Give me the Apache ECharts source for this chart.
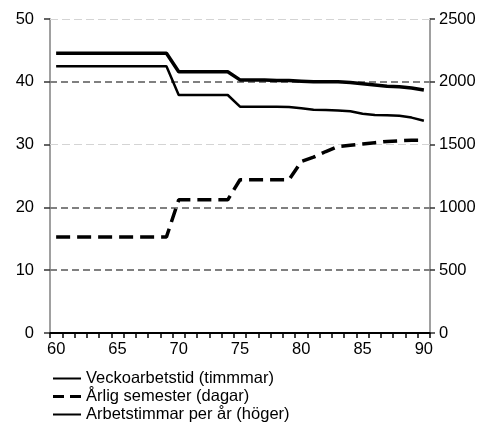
<!DOCTYPE html>
<html>
<head>
<meta charset="utf-8">
<script src="https://cdn.jsdelivr.net/npm/echarts@6/dist/echarts.min.js"></script>
<style>html,body{margin:0;padding:0;background:#fff;}#c{width:491px;height:425px;}</style>
</head>
<body>
<div id="c"></div>
<script>
const years = ['60','61','62','63','64','65','66','67','68','69','70','71','72','73','74','75','76','77','78','79','80','81','82','83','84','85','86','87','88','89','90'];
const weeklyHours = [44.55,44.55,44.55,44.55,44.55,44.55,44.55,44.55,44.55,44.55,41.6,41.6,41.6,41.6,41.6,40.3,40.3,40.3,40.2,40.2,40.1,40.0,40.0,40.0,39.9,39.7,39.5,39.3,39.2,39.0,38.7];
const vacationDays = [15.3,15.3,15.3,15.3,15.3,15.3,15.3,15.3,15.3,15.3,21.2,21.2,21.2,21.2,21.2,24.4,24.4,24.4,24.4,24.4,27.3,28.0,28.9,29.7,29.9,30.1,30.3,30.5,30.6,30.7,30.7];
const annualHours = [2124,2124,2124,2124,2124,2124,2124,2124,2124,2124,1895,1895,1895,1895,1895,1802,1802,1802,1802,1800,1790,1778,1775,1772,1765,1745,1735,1733,1730,1715,1690];
const darkGrid = [10,20,40];
const lightGrid = [30,50];
const names = ['Veckoarbetstid (timmmar)','Årlig semester (dagar)','Arbetstimmar per år (höger)'];

const font = 'Liberation Sans, Arial, sans-serif';
const fs = 16.5;
const solidIcon = 'path://M0,0h28v2h-28z';
const dashIcon = 'path://M0,0h11v3h-11zM17,0h11v3h-11z';
const icons = [solidIcon, dashIcon, solidIcon];
const chart = echarts.init(document.getElementById('c'), null, {renderer:'canvas'});
const markData = darkGrid.map(v => ({yAxis: v, lineStyle:{color:'#808080', width:2, type:[7,4]}}))
  .concat(lightGrid.map(v => ({yAxis: v, lineStyle:{color:'#d4d4d4', width:1, type:[8,4]}})));
const legends = names.map((n, i) => ({
  orient:'vertical', left:53, top:370 + i*18, padding:0, itemWidth:28, itemHeight:14,
  symbolKeepAspect:true,
  itemStyle:{color:'#000', borderWidth:0},
  textStyle:{fontFamily:font, fontSize:fs, color:'#000'},
  data:[{name:n, icon:icons[i]}]
}));
chart.setOption({
  animation:false,
  grid:{left:50, right:61, top:19, bottom:92, containLabel:false},
  legend:legends,
  xAxis:{
    type:'category', data:years, boundaryGap:true,
    axisLine:{lineStyle:{color:'#000', width:2}},
    axisTick:{show:true, interval:0, length:5, lineStyle:{color:'#000', width:1.5}},
    axisLabel:{interval:4, margin:8, color:'#000', fontFamily:font, fontSize:fs}
  },
  yAxis:[
    {type:'value', min:0, max:50, interval:10, position:'left',
     axisLine:{show:true, lineStyle:{color:'#a0a0a0', width:2}},
     axisTick:{show:true, length:6, lineStyle:{color:'#333', width:1.5}},
     axisLabel:{margin:16, color:'#000', fontFamily:font, fontSize:fs},
     splitLine:{show:false}},
    {type:'value', min:0, max:2500, interval:500, position:'right',
     axisLine:{show:true, lineStyle:{color:'#a0a0a0', width:2}},
     axisTick:{show:true, length:5, lineStyle:{color:'#333', width:1.5}},
     axisLabel:{margin:9, color:'#000', fontFamily:font, fontSize:fs, formatter: v => String(v)},
     splitLine:{show:false}}
  ],
  series:[
    {name:names[0], type:'line', data:weeklyHours, yAxisIndex:0, symbol:'none',
     lineStyle:{color:'#000', width:3.5}, itemStyle:{color:'#000'}, z:3,
     markLine:{silent:true, symbol:'none', label:{show:false}, data:markData, z:1}},
    {name:names[1], type:'line', data:vacationDays, yAxisIndex:0, symbol:'none',
     lineStyle:{color:'#000', width:3.5, type:[14,7]}, itemStyle:{color:'#000'}, z:3},
    {name:names[2], type:'line', data:annualHours, yAxisIndex:1, symbol:'none',
     lineStyle:{color:'#000', width:2.5}, itemStyle:{color:'#000'}, z:3}
  ]
});
</script>
</body>
</html>
